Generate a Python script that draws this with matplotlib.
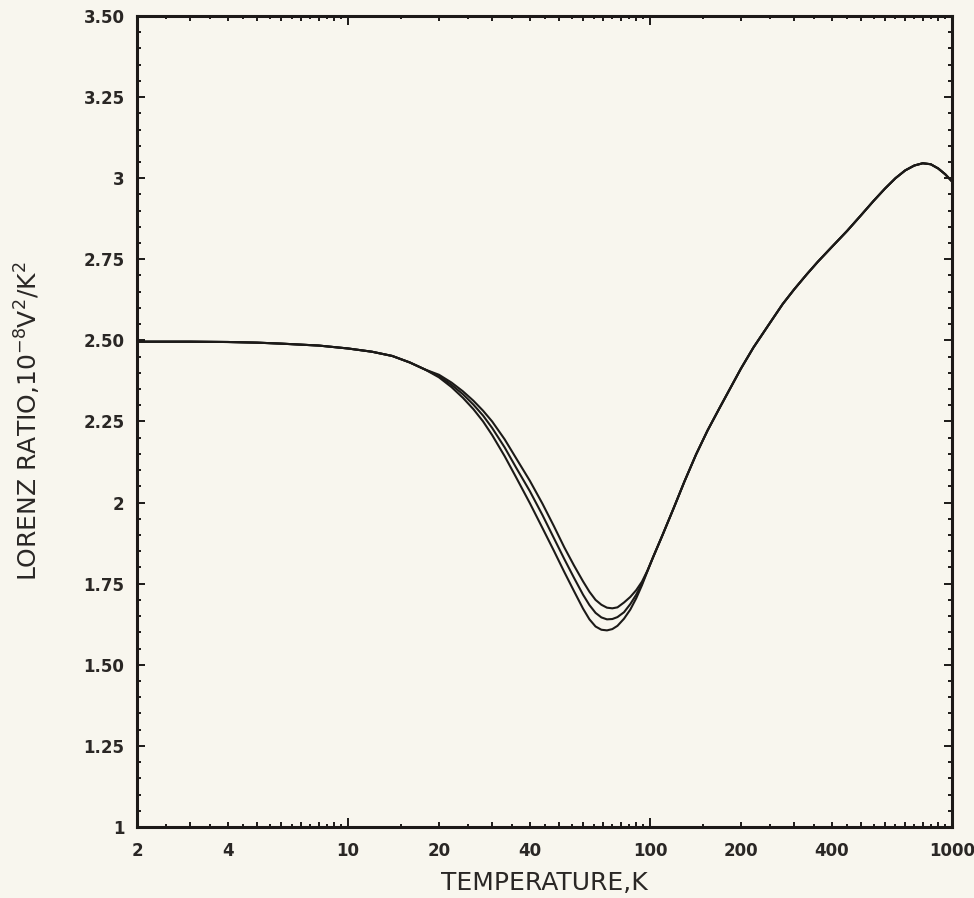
import matplotlib
matplotlib.use('Agg')
import matplotlib.pyplot as plt
import numpy as np
from matplotlib.ticker import MultipleLocator, NullFormatter

# --- data (T in K, Lorenz ratio in 1e-8 V^2/K^2) ---
# common low-temperature branch
temp_low = [2, 3, 4, 5, 6, 8, 10, 12, 14, 16, 18]
ratio_low = [2.496, 2.496, 2.495, 2.493, 2.490, 2.484, 2.475, 2.465, 2.452, 2.432, 2.410]

# the three curves split between ~20 K and ~98 K
temp_split = [20, 22, 24, 26, 28, 30, 33, 36, 40, 44, 48, 52, 56, 60, 63, 66, 69, 72, 75, 78, 82, 86, 90, 94, 98]
ratio_lower = [2.386, 2.356, 2.323, 2.288, 2.250, 2.208, 2.143, 2.078, 1.998, 1.922, 1.852, 1.786, 1.727,
               1.673, 1.640, 1.618, 1.608, 1.606, 1.610, 1.620, 1.642, 1.670, 1.705, 1.745, 1.788]
ratio_middle = [2.390, 2.363, 2.334, 2.302, 2.268, 2.230, 2.170, 2.108, 2.035, 1.962, 1.891, 1.826, 1.768,
                1.716, 1.684, 1.660, 1.646, 1.640, 1.641, 1.647, 1.662, 1.687, 1.716, 1.750, 1.789]
ratio_upper = [2.394, 2.370, 2.343, 2.314, 2.283, 2.250, 2.195, 2.137, 2.067, 1.997, 1.928, 1.862, 1.806,
               1.757, 1.725, 1.700, 1.685, 1.676, 1.674, 1.677, 1.692, 1.709, 1.730, 1.756, 1.790]

# common high-temperature branch
temp_high = [102.5, 110, 120, 130, 142, 155, 170, 185, 200, 220, 250, 275, 300, 330, 360, 400, 450,
             500, 550, 600, 650, 700, 750, 800, 850, 900, 950, 1000]
ratio_high = [1.833, 1.900, 1.985, 2.065, 2.148, 2.222, 2.292, 2.355, 2.413, 2.478, 2.555, 2.612, 2.657,
              2.703, 2.743, 2.788, 2.838, 2.886, 2.930, 2.968, 3.000, 3.024, 3.039, 3.046, 3.043, 3.030,
              3.012, 2.990]

x_labeled = [2, 4, 10, 20, 40, 100, 200, 400, 1000]
y_labels = ['1', '1.25', '1.50', '1.75', '2', '2.25', '2.50', '2.75', '3', '3.25', '3.50']

BG = '#f8f6ee'
INK = '#1c1a18'

fig = plt.figure(figsize=(9.74, 8.98), dpi=100, facecolor=BG)
ax = fig.add_axes([0.1407, 0.0791, 0.8367, 0.9031])
ax.set_facecolor(BG)

for r_mid in [ratio_lower, ratio_middle, ratio_upper]:
    t = temp_low + temp_split + temp_high
    r = ratio_low + r_mid + ratio_high
    ax.plot(t, r, color=INK, lw=1.5, solid_joinstyle='round', solid_capstyle='round')

ax.set_xscale('log')
ax.set_xlim(2, 1000)
ax.set_ylim(1, 3.5)

# x ticks: integers medium, halves short, decades long
major_x = list(np.arange(2, 10)) + list(np.arange(10, 100, 10)) + list(np.arange(100, 1001, 100))
minor_x = list(np.arange(2.5, 10, 1.0)) + list(np.arange(15, 100, 10)) + list(np.arange(150, 1000, 100))
ax.set_xticks(major_x, labels=[str(int(v)) if int(v) in x_labeled else '' for v in major_x])
ax.set_xticks(minor_x, minor=True)
ax.xaxis.set_minor_formatter(NullFormatter())

ax.set_yticks(np.arange(1, 3.51, 0.25), labels=y_labels)
ax.yaxis.set_minor_locator(MultipleLocator(0.05))

ax.tick_params(axis='both', which='both', direction='in', top=True, right=True, color=INK, width=1.4)
ax.tick_params(axis='x', which='major', length=3.5, pad=11)
ax.tick_params(axis='x', which='minor', length=2.0)
ax.tick_params(axis='y', which='major', length=5.5, pad=9)
ax.tick_params(axis='y', which='minor', length=3.0)

for tick in ax.xaxis.get_major_ticks():
    if round(tick.get_loc()) in (10, 100):
        tick.tick1line.set_markersize(6.5)
        tick.tick2line.set_markersize(6.5)

for lab in ax.get_xticklabels() + ax.get_yticklabels():
    lab.set_fontfamily('DejaVu Sans')
    lab.set_fontweight('bold')
    lab.set_fontsize(12)
    lab.set_color('#2a2725')

for s in ax.spines.values():
    s.set_linewidth(2.2)
    s.set_color(INK)

ax.set_xlabel('TEMPERATURE,K', fontsize=18, color='#2a2725', labelpad=8)
ax.set_ylabel(r'LORENZ RATIO,10$^{-8}$V$^2$/K$^2$', fontsize=18, color='#2a2725', labelpad=29)

plt.savefig('out.png', dpi=100, facecolor=BG)
